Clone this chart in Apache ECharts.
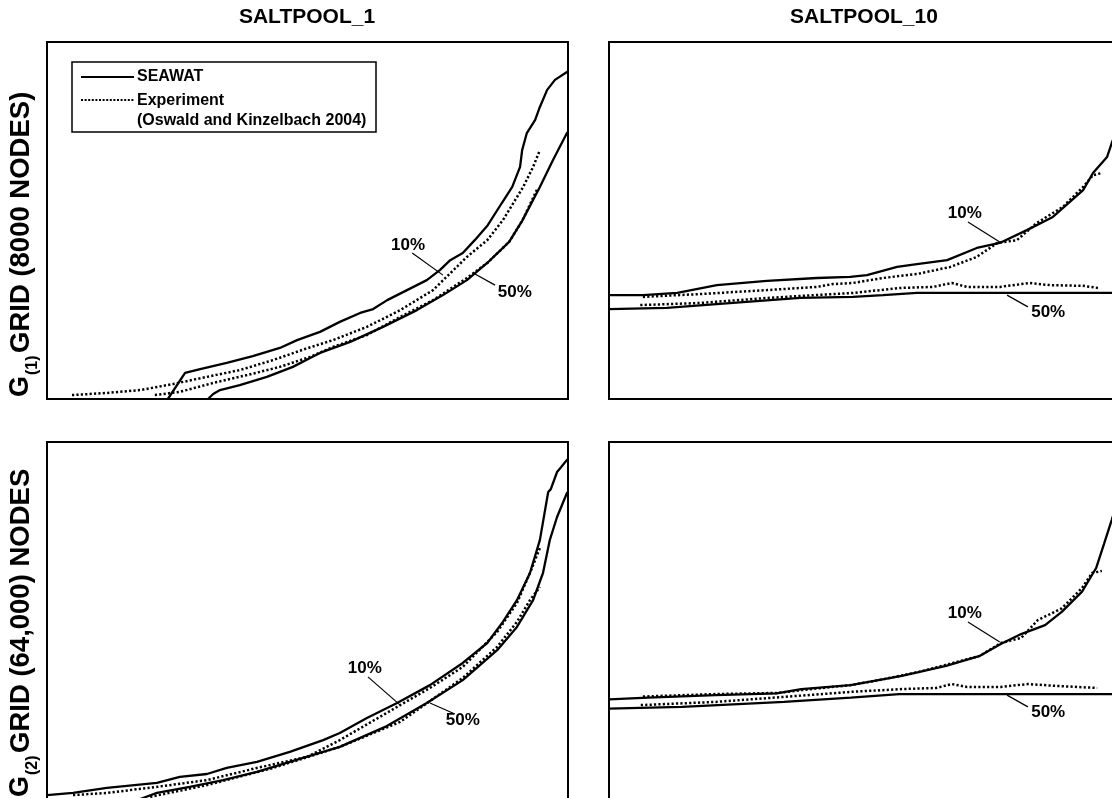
<!DOCTYPE html>
<html>
<head>
<meta charset="utf-8">
<script src="https://cdn.jsdelivr.net/npm/echarts@6/dist/echarts.min.js"></script>
<style>
  html, body { margin: 0; padding: 0; background: #fff; overflow: hidden; }
  /* right column and bottom row run past the window edge */
  #chart { width: 1150px; height: 830px; }
</style>
</head>
<body>
<div id="chart"></div>
<script>
// Iso-concentration front positions, panel units (0-100 on both axes).
// Each series is a list of [x, y] points.

// SALTPOOL_1, grid G(1) (8000 nodes)
const g1_sp1_seawat10 = [[23.2,0],[26.5,7.3],[29.4,8.4],[34.5,10.1],[39.5,12.0],[44.7,14.3],[48.0,16.5],[52.4,18.8],[56.2,21.6],[60.1,24.1],[62.6,25.2],[65.3,27.7],[69.1,30.5],[72.9,33.3],[75.4,36.1],[77.4,38.9],[79.8,40.9],[82.1,44.5],[84.6,48.7],[87.3,54.9],[89.3,59.4],[90.8,65.0],[91.2,69.7],[92.1,74.5],[93.7,78.2],[94.6,81.8],[96.0,86.6],[97.5,89.4],[99.8,91.6],[100,91.8]];
const g1_sp1_seawat50 = [[30.9,0],[31.9,1.4],[33.2,2.5],[37.0,3.9],[42.2,6.2],[47.2,9.0],[50.5,11.5],[52.4,12.9],[58.2,16.0],[64.5,20.2],[71.0,24.9],[76.0,29.1],[80.6,33.3],[84.5,38.1],[88.7,44.0],[91.2,49.9],[94.6,59.4],[97.1,66.9],[99.8,74.5],[100,74.8]];
const g1_sp1_exp10 = [[4.8,1.1],[11.5,1.7],[17.9,2.5],[24.2,4.2],[30.7,6.2],[37.0,8.1],[43.4,10.9],[49.5,14.0],[54.9,16.5],[61.4,20.2],[67.8,24.9],[74.1,30.5],[80.6,39.8],[84.5,44.5],[87.5,50.1],[91.4,59.4],[93.3,65.0],[94.6,69.7]];
const g1_sp1_exp50 = [[20.7,1.1],[25.5,2.0],[31.9,4.5],[38.4,6.7],[44.7,9.0],[50.5,11.8],[54.9,14.6],[61.4,17.9],[67.8,23.0],[74.1,27.7],[80.6,33.9],[84.5,38.1],[88.7,44.0],[91.2,49.9],[94.2,59.1]];

// SALTPOOL_10, grid G(1)
const g1_sp10_seawat10 = [[0,29.1],[6.5,29.1],[13.1,29.7],[20.7,31.9],[30.3,33.1],[39.9,33.9],[46.3,34.2],[49.5,34.7],[55.3,37.0],[59.1,37.8],[64.9,38.9],[70.6,42.3],[75.0,43.7],[80.2,47.3],[85.2,51.0],[91.0,58.5],[92.9,63.3],[95.6,67.8],[96.5,71.7],[98.1,77.6],[100,85.2]];
const g1_sp10_seawat50 = [[0,25.2],[11.1,25.5],[23.8,26.9],[36.7,28.3],[46.8,28.6],[52.6,29.1],[59.1,29.7],[75.0,29.7],[100,29.7]];
const g1_sp10_exp10 = [[6.5,28.6],[17.5,29.4],[30.3,30.5],[39.9,31.4],[43.0,32.2],[46.8,32.5],[52.6,33.9],[59.1,35.0],[65.5,37.0],[70.6,39.8],[74.5,43.7],[78.3,44.5],[82.1,49.3],[87.1,53.8],[91.0,59.4],[92.9,62.7],[94.6,63.3]];
const g1_sp10_exp50 = [[6.0,26.3],[17.5,26.9],[30.3,28.3],[43.0,29.4],[46.8,29.7],[55.9,31.1],[62.2,31.4],[65.8,32.5],[68.7,31.4],[75.0,31.4],[80.8,32.5],[84.6,31.9],[91.0,31.7],[93.9,31.1]];

// SALTPOOL_1, grid G(2) (64,000 nodes)
const g2_sp1_seawat10 = [[0,1.1],[5.0,1.7],[11.5,3.1],[21.1,4.5],[25.5,6.2],[30.7,7.0],[34.5,8.7],[40.3,10.4],[46.6,13.2],[53.0,16.5],[56.2,18.5],[61.4,22.7],[67.2,26.9],[73.5,31.9],[79.8,38.1],[84.5,43.7],[87.5,49.6],[90.2,55.7],[92.7,63.3],[94.6,72.5],[96.2,86.0],[96.7,86.8],[97.9,91.6],[98.7,93.0],[99.8,95.0],[100,95.2]];
const g2_sp1_seawat50 = [[17.9,0],[21.1,1.7],[27.4,3.4],[33.8,5.3],[40.3,7.6],[46.6,10.4],[53.0,13.2],[56.2,14.6],[64.9,20.2],[72.9,26.9],[79.8,33.3],[86.4,41.7],[90.2,48.2],[93.3,55.7],[95.2,63.3],[96.5,72.5],[97.9,79.0],[99.8,85.7],[100,86.0]];
const g2_sp1_exp10 = [[5.0,1.1],[11.5,1.7],[21.1,3.4],[30.7,5.3],[40.3,8.7],[49.9,11.8],[56.2,16.5],[67.2,25.8],[73.5,31.1],[79.8,37.0],[86.4,46.8],[90.2,54.9],[92.7,63.3],[94.6,70.3]];
const g2_sp1_exp50 = [[19.8,0.6],[30.7,3.9],[43.4,8.7],[56.2,14.6],[67.8,21.6],[79.8,33.9],[86.4,42.6],[90.2,49.6],[92.7,55.7],[94.6,59.4]];

// SALTPOOL_10, grid G(2)
const g2_sp10_seawat10 = [[0,27.9],[7.5,28.4],[20.5,29.1],[32.2,29.6],[36.9,30.8],[46.4,31.9],[56.2,34.5],[64.7,37.3],[71.2,40.1],[75.2,43.4],[79.1,46.2],[83.7,48.7],[86.9,52.4],[90.8,58.1],[93.5,64.7],[95.0,71.4],[96.5,78.2],[98.3,86.6],[100,95.0]];
const g2_sp10_seawat50 = [[0,25.3],[14.0,25.8],[33.6,27.2],[46.4,28.4],[55.7,29.4],[75.0,29.4],[100,29.4]];
const g2_sp10_exp10 = [[6.5,28.7],[20.5,29.4],[32.2,29.7],[36.9,30.5],[46.4,31.9],[51.8,33.3],[59.5,35.6],[66.0,38.1],[71.2,40.1],[75.2,43.7],[79.1,45.1],[82.3,50.1],[86.9,53.4],[90.8,59.1],[92.7,63.3],[94.6,63.9]];
const g2_sp10_exp50 = [[6.1,26.3],[20.5,27.2],[33.6,28.6],[46.4,30.0],[56.2,30.8],[62.8,31.1],[65.8,32.2],[68.7,31.4],[75.2,31.4],[80.4,32.2],[85.6,31.7],[93.7,31.1]];

// Contour labels: [text, label centre, leader start, leader end] per panel
const labels_g1_sp1  = [['10%', [69.3,43.1], [70.1,40.9], [76.0,34.7]], ['50%', [89.8,30.0], [86.0,31.9], [81.8,35.3]]];
const labels_g1_sp10 = [['10%', [68.3,52.1], [68.9,49.6], [75.0,44.0]], ['50%', [84.3,24.4], [80.4,25.8], [76.4,29.1]]];
const labels_g2_sp1  = [['10%', [61.0,36.7], [61.6,34.2], [67.8,26.3]], ['50%', [79.8,22.1], [78.3,23.8], [73.5,26.9]]];
const labels_g2_sp10 = [['10%', [68.3,52.1], [68.9,49.6], [75.0,44.0]], ['50%', [84.3,24.4], [80.4,25.8], [76.4,29.1]]];

const columnTitles = ['SALTPOOL_1', 'SALTPOOL_10'];
const rowLabels = [['G', '(1)', 'GRID (8000 NODES)'], ['G', '(2)', 'GRID (64,000) NODES']];
const legendNames = ['SEAWAT', 'Experiment', '(Oswald and Kinzelbach 2004)'];

const FONT = '"Liberation Sans", Arial, Helvetica, sans-serif';

// Panel layout: [left, top] of each plot box; all boxes share one size
const PANEL_W = 521, PANEL_H = 357;
const panelOrigins = [[47, 42], [609, 42], [47, 442], [609, 442]];

const panels = [
  { seawat: [g1_sp1_seawat10, g1_sp1_seawat50], exp: [g1_sp1_exp10, g1_sp1_exp50], labels: labels_g1_sp1 },
  { seawat: [g1_sp10_seawat10, g1_sp10_seawat50], exp: [g1_sp10_exp10, g1_sp10_exp50], labels: labels_g1_sp10 },
  { seawat: [g2_sp1_seawat10, g2_sp1_seawat50], exp: [g2_sp1_exp10, g2_sp1_exp50], labels: labels_g2_sp1 },
  { seawat: [g2_sp10_seawat10, g2_sp10_seawat50], exp: [g2_sp10_exp10, g2_sp10_exp50], labels: labels_g2_sp10 }
];

const solidStyle = { color: '#000', width: 2.3, type: 'solid' };
const dottedStyle = { color: '#000', width: 2.5, type: [2.2, 2.2], cap: 'butt' };

const grids = [], xAxes = [], yAxes = [], series = [];
panels.forEach((p, i) => {
  grids.push({
    left: panelOrigins[i][0], top: panelOrigins[i][1], width: PANEL_W, height: PANEL_H,
    show: true, borderColor: '#000', borderWidth: 2, backgroundColor: 'transparent',
    containLabel: false, outerBoundsMode: 'none'
  });
  xAxes.push({ type: 'value', gridIndex: i, min: 0, max: 100, show: false });
  yAxes.push({ type: 'value', gridIndex: i, min: 0, max: 100, show: false });
  p.seawat.forEach(d => series.push({
    type: 'line', name: 'SEAWAT', xAxisIndex: i, yAxisIndex: i, data: d,
    symbol: 'none', lineStyle: solidStyle, silent: true, animation: false, clip: true
  }));
  p.exp.forEach(d => series.push({
    type: 'line', name: 'Experiment', xAxisIndex: i, yAxisIndex: i, data: d,
    symbol: 'none', lineStyle: dottedStyle, silent: true, animation: false, clip: true
  }));
});

// Text helper for graphic elements
const txt = (x, y, text, size, opts) => {
  opts = opts || {};
  return {
    type: 'text', x: x, y: y, silent: true, rotation: opts.rotation || 0,
    style: Object.assign({ text: text, fontFamily: FONT, fontWeight: 'bold', fontSize: size,
      fill: '#000', align: 'center', verticalAlign: 'middle' }, opts.style || {})
  };
};

const UP = { rotation: Math.PI / 2, style: { align: 'left' } };

// Row label, read bottom to top: "G", subscript index, then the grid description
const rowLabel = (parts, bottom) => [
  txt(21, bottom, parts[0], 27, UP),
  txt(33, bottom - 22, parts[1], 16, UP),
  txt(21, bottom - 44, parts[2], 27.5, UP)
];

const staticGraphics = [
  txt(307, 17, columnTitles[0], 21),
  txt(864, 17, columnTitles[1], 21)
].concat(rowLabel(rowLabels[0], 397), rowLabel(rowLabels[1], 797), [
  // Legend
  { type: 'rect', silent: true, shape: { x: 72, y: 62, width: 304, height: 70 },
    style: { fill: '#fff', stroke: '#000', lineWidth: 1.5 } },
  { type: 'line', silent: true, shape: { x1: 81, y1: 77, x2: 134, y2: 77 },
    style: { stroke: '#000', lineWidth: 2 } },
  { type: 'line', silent: true, shape: { x1: 81, y1: 100, x2: 134, y2: 100 },
    style: { stroke: '#000', lineWidth: 2, lineDash: [2, 1.6] } },
  txt(137, 77, legendNames[0], 16, { style: { align: 'left' } }),
  txt(137, 101, legendNames[1], 16, { style: { align: 'left' } }),
  txt(137, 121, legendNames[2], 16, { style: { align: 'left' } })
]);

const chart = echarts.init(document.getElementById('chart'), null, { renderer: 'canvas' });
chart.setOption({
  backgroundColor: '#fff',
  animation: false,
  grid: grids, xAxis: xAxes, yAxis: yAxes, series: series,
  graphic: staticGraphics
});

// Contour labels with leader lines, placed through each panel's axes
const labelGraphics = [];
panels.forEach((p, i) => {
  p.labels.forEach(([text, c, a, b]) => {
    const pc = chart.convertToPixel({ gridIndex: i }, c);
    const pa = chart.convertToPixel({ gridIndex: i }, a);
    const pb = chart.convertToPixel({ gridIndex: i }, b);
    labelGraphics.push(txt(pc[0], pc[1], text, 17));
    labelGraphics.push({ type: 'line', silent: true,
      shape: { x1: pa[0], y1: pa[1], x2: pb[0], y2: pb[1] },
      style: { stroke: '#000', lineWidth: 1.2 } });
  });
});
chart.setOption({ graphic: staticGraphics.concat(labelGraphics) });
</script>
</body>
</html>
